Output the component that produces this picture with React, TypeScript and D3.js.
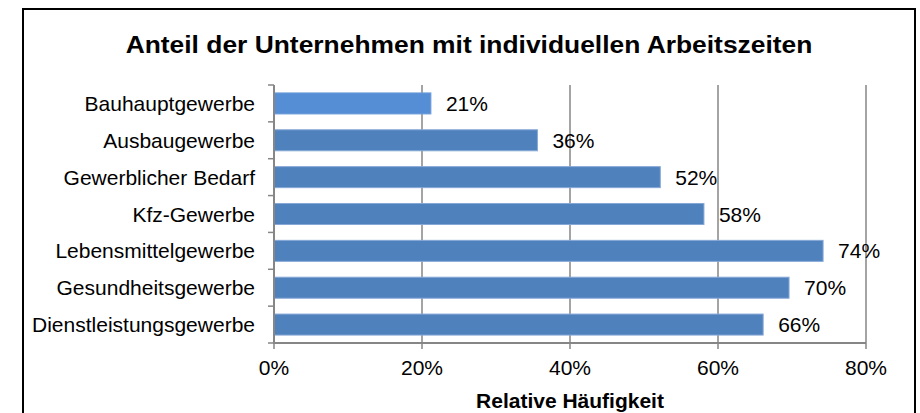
import React from "react";
import * as d3 from "d3";

const categories = [
  "Bauhauptgewerbe",
  "Ausbaugewerbe",
  "Gewerblicher Bedarf",
  "Kfz-Gewerbe",
  "Lebensmittelgewerbe",
  "Gesundheitsgewerbe",
  "Dienstleistungsgewerbe",
];
const values = [21.2, 35.6, 52.2, 58.1, 74.2, 69.6, 66.1];
const labels = ["21%", "36%", "52%", "58%", "74%", "70%", "66%"];
const ticks = [0, 20, 40, 60, 80];
const title = "Anteil der Unternehmen mit individuellen Arbeitszeiten";
const axisTitle = "Relative Häufigkeit";

export default function App() {
  const W = 920;
  const H = 413;
  const x = d3.scaleLinear().domain([0, 80]).range([274, 866]);
  const y = d3
    .scaleBand<string>()
    .domain(categories)
    .range([85, 343])
    .paddingInner(0.43)
    .paddingOuter(0.215);
  const step = y.step();
  const font = "'Liberation Sans', Arial, sans-serif";
  const grid = "#868686";
  const fs = 21;
  return (
    <svg
      width={W}
      height={H}
      style={{ position: "absolute", left: 0, top: 0, fontFamily: font }}
    >
      <rect x={0} y={0} width={W} height={H} fill="#fff" />
      <rect x={23} y={9} width={892} height={420} fill="none" stroke="#000" strokeWidth={2} />
      <text
        transform="translate(469,53) scale(1.1,1)"
        textAnchor="middle"
        fontWeight="bold"
        fontSize={24}
      >
        {title}
      </text>
      {ticks.slice(1).map((t) => (
        <line key={"g" + t} x1={x(t)} x2={x(t)} y1={85} y2={343} stroke={grid} strokeWidth={1.5} />
      ))}
      {ticks.map((t) => (
        <line key={"bt" + t} x1={x(t)} x2={x(t)} y1={343} y2={349} stroke={grid} strokeWidth={1.5} />
      ))}
      {d3.range(categories.length + 1).map((i) => (
        <line
          key={"lt" + i}
          x1={268}
          x2={274}
          y1={85 + i * step}
          y2={85 + i * step}
          stroke={grid}
          strokeWidth={1.5}
        />
      ))}
      {categories.map((c, i) => (
        <rect
          key={c}
          x={x(0)}
          y={y(c)!}
          width={x(values[i]) - x(0)}
          height={y.bandwidth()}
          fill={i === 0 ? "#558ED5" : "#4F81BD"}
          stroke={i === 0 ? "#6C9CDA" : "#86A8D6"}
          strokeWidth={1}
        />
      ))}
      <line x1={274} x2={274} y1={85} y2={343} stroke={grid} strokeWidth={2} />
      <line x1={273} x2={866} y1={343} y2={343} stroke={grid} strokeWidth={2} />
      {categories.map((c) => (
        <text key={"c" + c} x={255} y={y(c)! + y.bandwidth() / 2 + 7.5} textAnchor="end" fontSize={fs}>
          {c}
        </text>
      ))}
      {categories.map((c, i) => (
        <text key={"v" + c} x={x(values[i]) + 15} y={y(c)! + y.bandwidth() / 2 + 7.5} fontSize={fs}>
          {labels[i]}
        </text>
      ))}
      {ticks.map((t) => (
        <text key={"tl" + t} x={x(t)} y={375} textAnchor="middle" fontSize={fs}>
          {t + "%"}
        </text>
      ))}
      <text x={570} y={408} textAnchor="middle" fontWeight="bold" fontSize={21}>
        {axisTitle}
      </text>
    </svg>
  );
}
